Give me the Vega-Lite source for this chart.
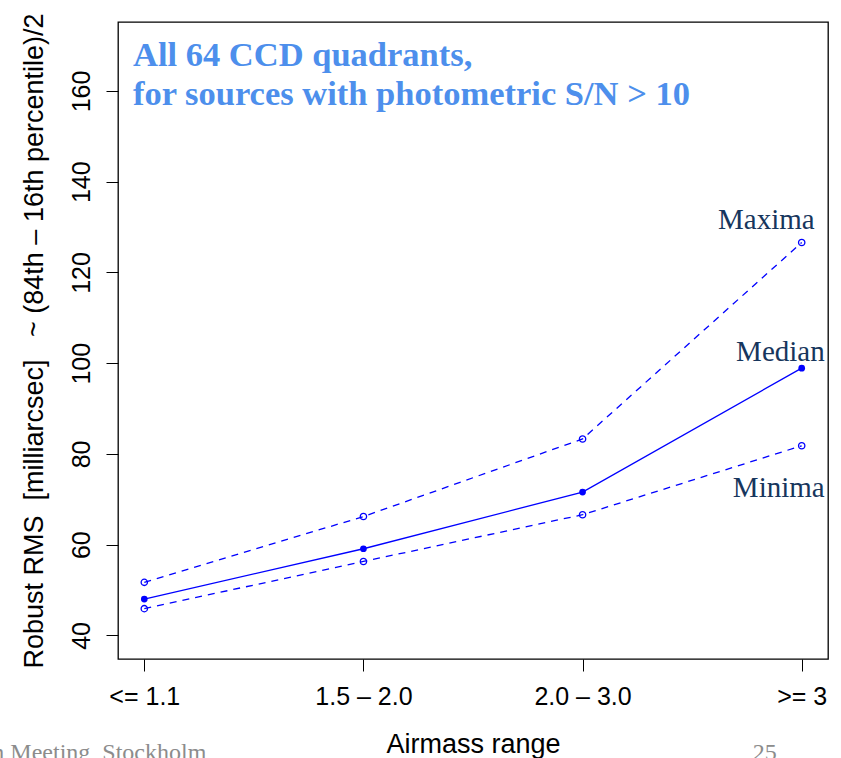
{
  "$schema": "https://vega.github.io/schema/vega-lite/v6.json",
  "width": 710,
  "height": 637,
  "autosize": "none",
  "padding": {"left": 118, "top": 22, "right": 13, "bottom": 99},
  "background": "white",
  "config": {
    "view": {"stroke": "black", "strokeWidth": 1.3},
    "axis": {
      "grid": false,
      "domain": false,
      "tickColor": "black",
      "tickSize": 12,
      "tickWidth": 1,
      "labelFont": "Liberation Sans",
      "titleFont": "Liberation Sans",
      "labelColor": "black",
      "titleColor": "black",
      "titleFontWeight": "normal"
    }
  },
  "title": {
    "text": ["All 64 CCD quadrants,", "for sources with photometric S/N > 10"],
    "orient": "top",
    "anchor": "start",
    "frame": "group",
    "offset": -127,
    "dx": 15,
    "baseline": "alphabetic",
    "font": "Liberation Serif",
    "fontWeight": "bold",
    "fontSize": 34.5,
    "lineHeight": 39,
    "color": "#4d8fec"
  },
  "data": {
    "values": [
      {"airmass": 1, "series": "Maxima", "rms": 51.7},
      {"airmass": 2, "series": "Maxima", "rms": 66.2},
      {"airmass": 3, "series": "Maxima", "rms": 83.3},
      {"airmass": 4, "series": "Maxima", "rms": 126.6},
      {"airmass": 1, "series": "Median", "rms": 48.0},
      {"airmass": 2, "series": "Median", "rms": 59.1},
      {"airmass": 3, "series": "Median", "rms": 71.6},
      {"airmass": 4, "series": "Median", "rms": 98.9},
      {"airmass": 1, "series": "Minima", "rms": 45.9},
      {"airmass": 2, "series": "Minima", "rms": 56.3},
      {"airmass": 3, "series": "Minima", "rms": 66.6},
      {"airmass": 4, "series": "Minima", "rms": 81.8}
    ]
  },
  "layer": [
    {
      "transform": [{"filter": "datum.series !== 'Median'"}],
      "mark": {"type": "line", "color": "#0000ff", "strokeWidth": 1.3, "strokeDash": [7, 6]},
      "encoding": {
        "x": {
          "field": "airmass", "type": "quantitative",
          "scale": {"domain": [0.88, 4.12], "nice": false, "zero": false},
          "axis": {
            "values": [1, 2, 3, 4],
            "labelExpr": "datum.value == 1 ? '<= 1.1' : datum.value == 2 ? '1.5 – 2.0' : datum.value == 3 ? '2.0 – 3.0' : '>= 3'",
            "labelFontSize": 25,
            "labelPadding": 13,
            "labelFlush": false,
            "labelOverlap": false,
            "title": "Airmass range",
            "titleFontSize": 27,
            "titleBaseline": "alphabetic",
            "titleY": 93
          }
        },
        "y": {
          "field": "rms", "type": "quantitative",
          "scale": {"domain": [34.8, 175.2], "nice": false, "zero": false},
          "axis": {
            "values": [40, 60, 80, 100, 120, 140, 160],
            "labelAngle": -90,
            "labelAlign": "center",
            "labelBaseline": "alphabetic",
            "labelPadding": 17,
            "labelFontSize": 25,
            "labelOverlap": false,
            "title": "Robust RMS\u00a0 [milliarcsec]\u00a0\u00a0 ~ (84th – 16th percentile)/2",
            "titleFontSize": 27,
            "titleAngle": -90,
            "titleAlign": "center",
            "titleBaseline": "alphabetic",
            "titleX": -76,
            "titleY": 318.5
          }
        },
        "detail": {"field": "series"}
      }
    },
    {
      "transform": [{"filter": "datum.series === 'Median'"}],
      "mark": {"type": "line", "color": "#0000ff", "strokeWidth": 1.3},
      "encoding": {
        "x": {"field": "airmass", "type": "quantitative"},
        "y": {"field": "rms", "type": "quantitative"}
      }
    },
    {
      "transform": [{"filter": "datum.series !== 'Median'"}],
      "mark": {"type": "point", "shape": "circle", "filled": false, "stroke": "#0000ff", "strokeWidth": 1.3, "size": 40, "opacity": 1},
      "encoding": {
        "x": {"field": "airmass", "type": "quantitative"},
        "y": {"field": "rms", "type": "quantitative"}
      }
    },
    {
      "transform": [{"filter": "datum.series === 'Median'"}],
      "mark": {"type": "circle", "color": "#0000ff", "size": 45, "opacity": 1},
      "encoding": {
        "x": {"field": "airmass", "type": "quantitative"},
        "y": {"field": "rms", "type": "quantitative"}
      }
    },
    {
      "transform": [{"filter": "datum.series === 'Maxima' && datum.airmass === 4"}],
      "mark": {"type": "text", "font": "Liberation Serif", "fontSize": 29, "color": "#17365d", "align": "right", "baseline": "alphabetic", "dx": 13, "dy": -14},
      "encoding": {
        "x": {"field": "airmass", "type": "quantitative"},
        "y": {"field": "rms", "type": "quantitative"},
        "text": {"field": "series"}
      }
    },
    {
      "transform": [{"filter": "datum.series === 'Median' && datum.airmass === 4"}],
      "mark": {"type": "text", "font": "Liberation Serif", "fontSize": 29, "color": "#17365d", "align": "right", "baseline": "alphabetic", "dx": 23, "dy": -7},
      "encoding": {
        "x": {"field": "airmass", "type": "quantitative"},
        "y": {"field": "rms", "type": "quantitative"},
        "text": {"field": "series"}
      }
    },
    {
      "transform": [{"filter": "datum.series === 'Minima' && datum.airmass === 4"}],
      "mark": {"type": "text", "font": "Liberation Serif", "fontSize": 29, "color": "#17365d", "align": "right", "baseline": "alphabetic", "dx": 23, "dy": 51},
      "encoding": {
        "x": {"field": "airmass", "type": "quantitative"},
        "y": {"field": "rms", "type": "quantitative"},
        "text": {"field": "series"}
      }
    },
    {
      "data": {"values": [{"note": "n Meeting, Stockholm"}]},
      "mark": {"type": "text", "font": "Liberation Serif", "fontSize": 24, "color": "#8c8c8c", "align": "right", "baseline": "alphabetic", "clip": false},
      "encoding": {
        "x": {"datum": 1.283, "type": "quantitative"},
        "y": {"datum": 12.6, "type": "quantitative"},
        "text": {"field": "note"}
      }
    },
    {
      "data": {"values": [{"note": "25"}]},
      "mark": {"type": "text", "font": "Liberation Serif", "fontSize": 24, "color": "#8c8c8c", "align": "right", "baseline": "alphabetic", "clip": false},
      "encoding": {
        "x": {"datum": 3.886, "type": "quantitative"},
        "y": {"datum": 12.6, "type": "quantitative"},
        "text": {"field": "note"}
      }
    }
  ]
}
